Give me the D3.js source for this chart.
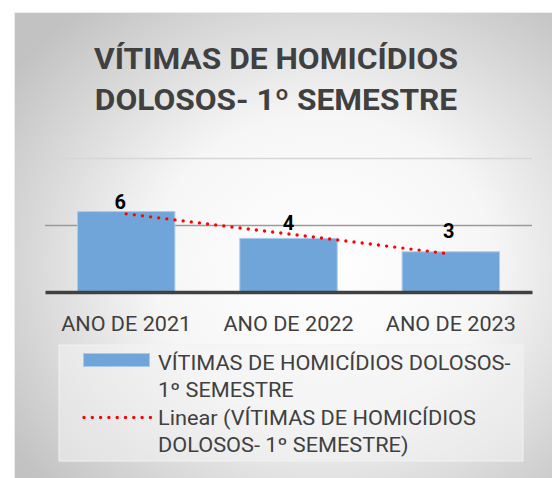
<!DOCTYPE html>
<html>
<head>
<meta charset="utf-8">
<script src="https://cdn.jsdelivr.net/npm/d3@7"></script>
<style>
  body { margin: 0; background: #ffffff; }
  text { font-family: Roboto, "Open Sans", sans-serif; fill: #404040; }
</style>
</head>
<body>
<div id="chart"></div>
<script>
// data
var categories = ["ANO DE 2021", "ANO DE 2022", "ANO DE 2023"];
var victims = [6, 4, 3];
var gridValues = [5, 10];
var titleLines = ["VÍTIMAS DE HOMICÍDIOS", "DOLOSOS- 1º SEMESTRE"];
var legendBarLines = ["VÍTIMAS DE HOMICÍDIOS DOLOSOS-", "1º SEMESTRE"];
var legendTrendLines = ["Linear (VÍTIMAS DE HOMICÍDIOS", "DOLOSOS- 1º SEMESTRE)"];

var svgWidth = 552;
var svgHeight = 478;

var plot = { left: 45, right: 532, top: 158, bottom: 292 };

// the original font (Calibri) is wider for the same cap height, so stretch a little
function widen(sel, k) {
  sel.each(function() {
    var w = this.getComputedTextLength();
    d3.select(this)
      .attr("textLength", w * k)
      .attr("lengthAdjust", "spacingAndGlyphs");
  });
}

var svg = d3.select("#chart")
  .append("svg")
  .attr("width", svgWidth)
  .attr("height", svgHeight);

// background gradient
var defs = svg.append("defs");
var grad = defs.append("radialGradient")
  .attr("id", "bg")
  .attr("cx", "55%").attr("cy", "52%").attr("r", "68%");
grad.append("stop").attr("offset", "0%").attr("stop-color", "#ffffff");
grad.append("stop").attr("offset", "45%").attr("stop-color", "#f6f6f6");
grad.append("stop").attr("offset", "100%").attr("stop-color", "#c2c2c2");

svg.append("rect")
  .attr("x", 14.5).attr("y", 12.5)
  .attr("width", 560).attr("height", 480)
  .attr("fill", "url(#bg)")
  .attr("stroke", "#ececec")
  .attr("stroke-width", 1);

// title
svg.append("g").selectAll("text")
  .data(titleLines)
  .enter()
  .append("text")
  .attr("x", 276)
  .attr("y", (d, i) => 69 + i * 41)
  .attr("text-anchor", "middle")
  .attr("font-size", 29.5)
  .attr("font-weight", "bold")
  .text(d => d)
  .call(widen, 1.074);

// scales
var xScale = d3.scaleBand()
  .domain(categories)
  .range([plot.left, plot.right])
  .paddingInner(0.4)
  .paddingOuter(0.2);

var yScale = d3.scaleLinear()
  .domain([0, 10])
  .range([plot.bottom, plot.top]);

// gridlines
var grid = svg.append("g")
  .attr("transform", `translate(${plot.left}, 0)`)
  .call(d3.axisLeft(yScale).tickValues(gridValues).tickSize(-(plot.right - plot.left)).tickFormat(""));
grid.select(".domain").remove();
grid.selectAll(".tick line")
  .attr("stroke", (d, i) => i === 0 ? "#9a9a9a" : "#d6d6d6")
  .attr("stroke-width", 1.5);

// bars
svg.append("g").selectAll("rect")
  .data(victims)
  .enter()
  .append("rect")
  .attr("x", (d, i) => xScale(categories[i]))
  .attr("y", d => yScale(d))
  .attr("width", xScale.bandwidth())
  .attr("height", d => yScale(0) - yScale(d))
  .attr("fill", "#6fa5d9")
  .attr("stroke", "#a9cbec")
  .attr("stroke-width", 1);

// x axis, its domain is the dark base line
var xAxis = svg.append("g")
  .attr("transform", `translate(0, ${plot.bottom})`)
  .call(d3.axisBottom(xScale).tickSize(0).tickSizeOuter(0));
xAxis.select(".domain")
  .attr("stroke", "#404040")
  .attr("stroke-width", 3.5);
xAxis.selectAll(".tick text")
  .attr("dy", null)
  .attr("y", 38.5)
  .attr("font-size", 20)
  .attr("fill", "#404040")
  .style("font-family", "Roboto, sans-serif")
  .call(widen, 1.08);

// linear trend line (least squares over 1..n)
var n = victims.length;
var xs = d3.range(1, n + 1);
var mx = d3.mean(xs), my = d3.mean(victims);
var slope = d3.sum(xs, (x, i) => (x - mx) * (victims[i] - my)) / d3.sum(xs, x => (x - mx) * (x - mx));
var intercept = my - slope * mx;
var trend = xs.map(x => intercept + slope * x);

var line = d3.line()
  .x((d, i) => xScale(categories[i]) + xScale.bandwidth() / 2)
  .y(d => yScale(d));

svg.append("path")
  .datum(trend)
  .attr("d", line)
  .attr("fill", "none")
  .attr("stroke", "#ff0000")
  .attr("stroke-width", 3.4)
  .attr("stroke-linecap", "round")
  .attr("stroke-dasharray", "0 8.2");

// data labels
var labelNudgeY = [3, 8, 14];
var labelNudgeX = [-6, 0, -2];
svg.append("g").selectAll("text")
  .data(victims)
  .enter()
  .append("text")
  .attr("x", (d, i) => xScale(categories[i]) + xScale.bandwidth() / 2 + labelNudgeX[i])
  .attr("y", (d, i) => yScale(d) - labelNudgeY[i])
  .attr("text-anchor", "middle")
  .attr("font-size", 20)
  .attr("font-weight", "bold")
  .style("fill", "#000000")
  .text(d => d);

// legend
var legend = svg.append("g");
legend.append("rect")
  .attr("x", 59).attr("y", 345)
  .attr("width", 464).attr("height", 116)
  .attr("fill", "#f4f4f4")
  .attr("fill-opacity", 0.55)
  .attr("stroke", "#f2f2f2");

legend.append("rect")
  .attr("x", 83.5).attr("y", 353.5)
  .attr("width", 66).attr("height", 13)
  .attr("fill", "#6fa5d9")
  .attr("stroke", "#a9cbec");

legend.append("line")
  .attr("x1", 84).attr("x2", 151)
  .attr("y1", 417.5).attr("y2", 417.5)
  .attr("stroke", "#ff0000")
  .attr("stroke-width", 3.4)
  .attr("stroke-linecap", "round")
  .attr("stroke-dasharray", "0 8.3");

var legendLines = legendBarLines.concat(legendTrendLines);
legend.selectAll("text.leg")
  .data(legendLines)
  .enter()
  .append("text")
  .attr("class", "leg")
  .attr("x", 158)
  .attr("y", (d, i) => 370 + i * 27.3)
  .attr("font-size", 20)
  .text(d => d)
  .call(widen, 1.086);
</script>
</body>
</html>
